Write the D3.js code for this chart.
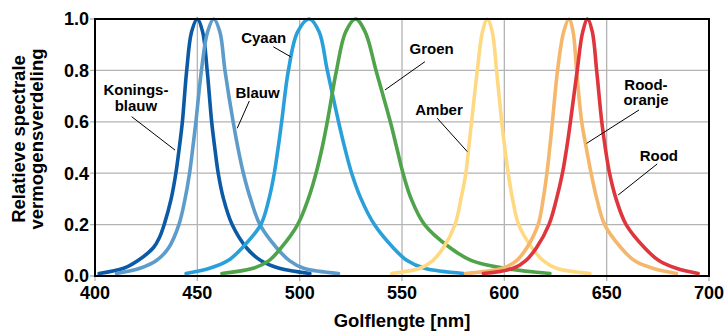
<!DOCTYPE html>
<html>
<head>
<meta charset="utf-8">
<script src="https://cdn.jsdelivr.net/npm/d3@7"></script>
<style>
  body { margin: 0; background: #fff; }
  svg { display: block; font-family: "Liberation Sans", Arial, sans-serif; font-weight: bold; }
</style>
</head>
<body>
<svg id="viz"></svg>
<script>
// Spectral curves as [wavelength nm, relative power]
const koningsblauw = [[402,0.01],[414,0.03],[421,0.06],[428.5,0.11],[431.5,0.15],[433.8,0.2],[437.2,0.3],[439.5,0.4],[441.2,0.5],[442.7,0.6],[444.8,0.8],[447.2,0.95],[450,1],[452.6,0.95],[454.8,0.8],[457,0.6],[458.5,0.5],[460.2,0.4],[462.8,0.3],[467,0.2],[474,0.11],[481,0.06],[490,0.03],[505,0.01]];
const blauw = [[410.5,0.01],[422,0.03],[430,0.06],[436,0.11],[441,0.2],[444,0.3],[446.2,0.4],[447.8,0.5],[449.3,0.6],[452,0.8],[455,0.95],[458,1],[461,0.95],[463.5,0.8],[467.5,0.6],[469.8,0.5],[472.5,0.4],[476,0.3],[480.6,0.2],[488.7,0.11],[495,0.06],[502,0.03],[519,0.01]];
const cyaan = [[444.5,0.01],[456,0.03],[465,0.06],[472,0.11],[481,0.2],[485,0.3],[487.6,0.4],[489.5,0.5],[491.2,0.6],[494.5,0.8],[499,0.95],[504.7,1],[509.5,0.95],[513.5,0.8],[519,0.6],[522,0.5],[525.4,0.4],[530,0.3],[536.5,0.2],[545.7,0.11],[552.5,0.06],[561,0.03],[580,0.01]];
const groen = [[462,0.01],[477.3,0.03],[485,0.06],[491,0.11],[499,0.2],[504.2,0.3],[508,0.4],[511,0.5],[513.5,0.6],[518,0.8],[522.5,0.95],[527.3,1],[532,0.95],[537.3,0.8],[544.3,0.6],[547.4,0.5],[550.5,0.4],[554.5,0.3],[561,0.2],[573.5,0.11],[584,0.06],[600,0.03],[622.3,0.01]];
const amber = [[545,0.01],[558.8,0.03],[565,0.06],[570.2,0.11],[575.9,0.2],[578.8,0.3],[581.2,0.4],[582.6,0.5],[584,0.6],[586.8,0.8],[589.3,0.95],[591.7,1],[594.1,0.95],[596.2,0.8],[598.7,0.6],[600.2,0.5],[601.9,0.4],[604,0.3],[607,0.2],[613.5,0.11],[619,0.06],[625.5,0.03],[641.8,0.01]];
const roodOranje = [[581,0.01],[599,0.03],[606,0.06],[611,0.11],[616.5,0.2],[619,0.3],[620.8,0.4],[622.2,0.5],[623.5,0.6],[626,0.8],[629,0.95],[631.6,1],[633.6,0.95],[635.3,0.8],[637.8,0.6],[640,0.5],[642.4,0.4],[645.2,0.3],[649,0.2],[657,0.11],[663.5,0.06],[672.5,0.03],[684.1,0.01]];
const rood = [[589.7,0.01],[604.3,0.03],[610.5,0.06],[615.7,0.11],[621.8,0.2],[625.5,0.3],[628.4,0.4],[630.5,0.5],[632.3,0.6],[635.6,0.8],[638.3,0.95],[640.7,1],[643,0.95],[645.1,0.8],[647.6,0.6],[649.3,0.5],[651.4,0.4],[654.6,0.3],[659.5,0.2],[668.5,0.11],[675.5,0.06],[684,0.03],[694.7,0.01]];

const seriesNames = ["Koningsblauw", "Blauw", "Cyaan", "Groen", "Amber", "Rood-oranje", "Rood"];
const seriesValues = [koningsblauw, blauw, cyaan, groen, amber, roodOranje, rood];
const seriesColors = ["#0b5aa6", "#5d9bcb", "#2aa0da", "#4fa34a", "#fed982", "#f5b76b", "#df353d"];

const xTicks = [400, 450, 500, 550, 600, 650, 700];
const yTicks = [0, 0.2, 0.4, 0.6, 0.8, 1.0];

// Callout labels: text lines, text anchor [nm, value], leader from/to [nm, value]
const labelLines = [["Konings-", "blauw"], ["Blauw"], ["Cyaan"], ["Groen"], ["Amber"], ["Rood-", "oranje"], ["Rood"]];
const labelAt = [[420, 0.704], [479.4, 0.694], [482.4, 0.905], [564.5, 0.863], [568.1, 0.626], [669.2, 0.724], [675.5, 0.449]];
const leaderFrom = [[417.9, 0.62], [475.4, 0.681], [487.1, 0.892], [561.2, 0.834], [567.2, 0.614], [665.8, 0.646], [674.7, 0.436]];
const leaderTo = [[439.1, 0.49], [469.5, 0.575], [495.6, 0.853], [541.7, 0.724], [581.9, 0.484], [640.2, 0.516], [655.6, 0.315]];

const width = 727, height = 334;
const svg = d3.select("#viz").attr("width", width).attr("height", height);

const x = d3.scaleLinear().domain([400, 700]).range([95, 709]);
const y = d3.scaleLinear().domain([0, 1]).range([276, 19]);

// Grid (extends a little past the frame as tick marks)
const grid = svg.append("g").attr("stroke", "#b3b3b3").attr("stroke-width", 1.3);
grid.selectAll(".gx").data(xTicks).enter().append("line")
  .attr("x1", d => x(d)).attr("x2", d => x(d))
  .attr("y1", y(1)).attr("y2", y(0) + 5);
grid.selectAll(".gy").data(yTicks).enter().append("line")
  .attr("x1", x(400) - 5).attr("x2", x(700))
  .attr("y1", d => y(d)).attr("y2", d => y(d));

// Tick labels
svg.append("g").selectAll("text").data(xTicks).enter().append("text")
  .attr("x", d => x(d)).attr("y", y(0) + 23)
  .attr("text-anchor", "middle").attr("font-size", 18)
  .text(d => d);
svg.append("g").selectAll("text").data(yTicks).enter().append("text")
  .attr("x", x(400) - 6).attr("y", d => y(d)).attr("dy", "0.35em")
  .attr("text-anchor", "end").attr("font-size", 18)
  .text(d => d3.format(".1f")(d));

// Curves
const line = d3.line()
  .x(d => x(d[0])).y(d => y(d[1]))
  .curve(d3.curveCatmullRom.alpha(0.5));
svg.append("g").selectAll("path").data(seriesValues).enter().append("path")
  .attr("d", line)
  .attr("fill", "none")
  .attr("stroke", (d, i) => seriesColors[i])
  .attr("stroke-width", 3.6)
  .attr("stroke-linecap", "round");

// Frame
svg.append("rect")
  .attr("x", x(400)).attr("y", y(1))
  .attr("width", x(700) - x(400)).attr("height", y(0) - y(1))
  .attr("fill", "none").attr("stroke", "#000").attr("stroke-width", 2);

// Callouts
const callouts = svg.append("g");
seriesNames.forEach((name, i) => {
  callouts.append("line")
    .attr("x1", x(leaderFrom[i][0])).attr("y1", y(leaderFrom[i][1]))
    .attr("x2", x(leaderTo[i][0])).attr("y2", y(leaderTo[i][1]))
    .attr("stroke", "#000").attr("stroke-width", 1);
  const t = callouts.append("text")
    .attr("x", x(labelAt[i][0])).attr("y", y(labelAt[i][1]))
    .attr("text-anchor", "middle").attr("font-size", 15);
  labelLines[i].forEach((s, j) => {
    t.append("tspan").attr("x", x(labelAt[i][0])).attr("dy", j ? 15.5 : 0).text(s);
  });
});

// Axis titles
svg.append("text")
  .attr("x", (x(400) + x(700)) / 2).attr("y", 327)
  .attr("text-anchor", "middle").attr("font-size", 18.5)
  .text("Golflengte [nm]");
const yt = svg.append("text")
  .attr("transform", "translate(25, 139) rotate(-90)")
  .attr("text-anchor", "middle").attr("font-size", 18.5);
yt.append("tspan").attr("x", 0).attr("y", 0).text("Relatieve spectrale");
yt.append("tspan").attr("x", 0).attr("y", 18).text("vermogensverdeling");
</script>
</body>
</html>
